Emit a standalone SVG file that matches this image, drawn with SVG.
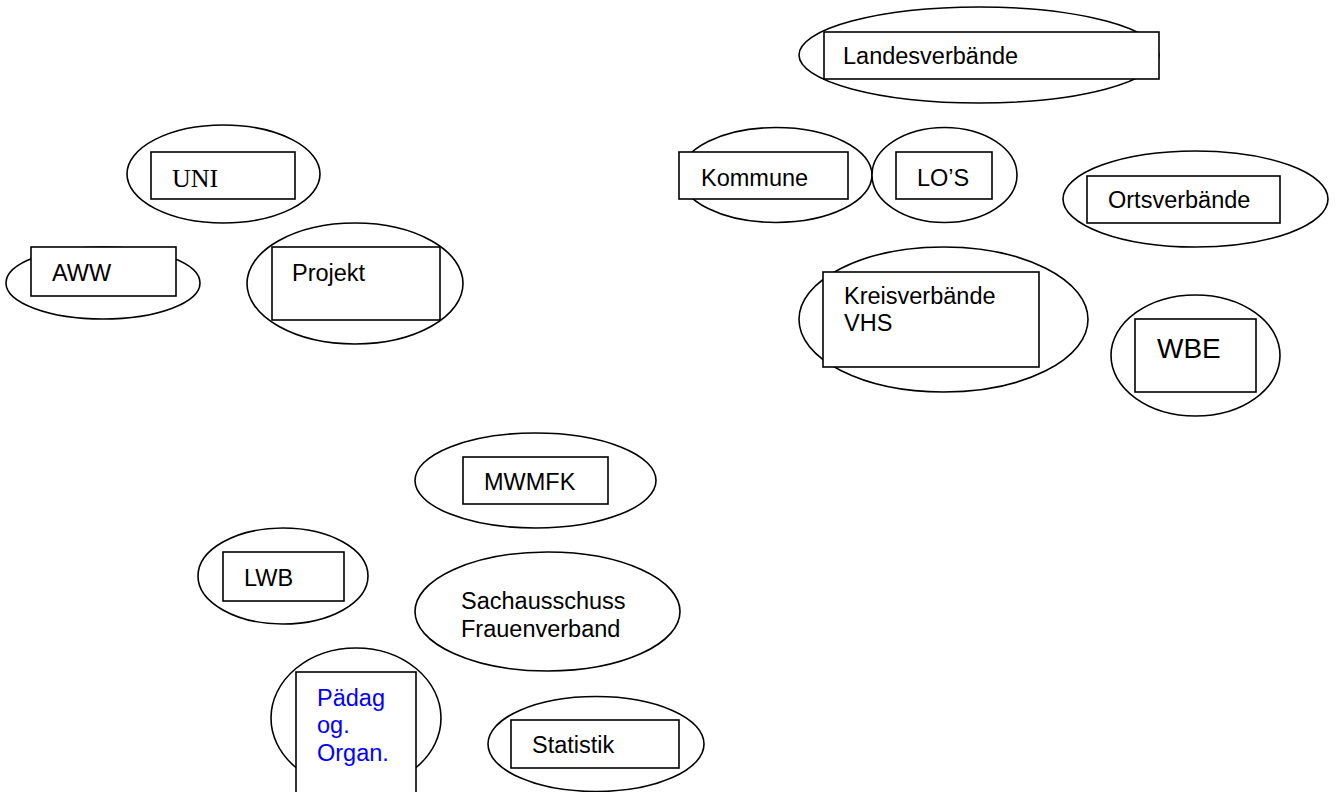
<svg xmlns="http://www.w3.org/2000/svg" width="1340" height="792" viewBox="0 0 1340 792">
<style>
.e{fill:#fff;stroke:#000;stroke-width:1.6}
.r{fill:#fff;stroke:#000;stroke-width:1.6}
.t{font-family:"Liberation Sans",Arial,sans-serif;font-size:23.5px;fill:#000}
.s{font-family:"Liberation Serif","Times New Roman",serif;font-size:26px;fill:#000}
.b{fill:#0000ff}
</style>
<rect width="1340" height="792" fill="#fff"/>
<g id="connectors"></g>
<g id="uni"><ellipse class="e" cx="223.5" cy="174" rx="96.5" ry="49"/><rect class="r" x="151" y="152" width="144" height="47"/><text class="s" x="172" y="187">UNI</text></g>
<g id="aww"><ellipse class="e" cx="103" cy="283" rx="97" ry="36"/><rect class="r" x="31" y="247" width="145" height="49"/><text class="t" x="52" y="281">AWW</text></g>
<g id="projekt"><ellipse class="e" cx="355" cy="283.5" rx="108" ry="60.5"/><rect class="r" x="272" y="247" width="168" height="73"/><text class="t" x="292" y="281">Projekt</text></g>
<g id="landesverbaende"><ellipse class="e" cx="979" cy="55" rx="180" ry="48"/><rect class="r" x="824" y="32" width="335" height="47"/><text class="t" x="843" y="64">Landesverbände</text></g>
<g id="kommune"><ellipse class="e" cx="776" cy="175" rx="96" ry="47.5"/><rect class="r" x="679" y="152" width="169" height="47"/><text class="t" x="701" y="186">Kommune</text></g>
<g id="los"><ellipse class="e" cx="944.5" cy="175" rx="72.5" ry="47.5"/><rect class="r" x="896" y="152" width="96" height="47"/><text class="t" x="917" y="186">LO’S</text></g>
<g id="ortsverbaende"><ellipse class="e" cx="1195.5" cy="199" rx="132.5" ry="48"/><rect class="r" x="1087" y="176" width="193" height="47"/><text class="t" x="1108" y="208">Ortsverbände</text></g>
<g id="kreisverbaende"><ellipse class="e" cx="943.5" cy="319.5" rx="144.5" ry="72.5"/><rect class="r" x="823" y="272" width="216" height="95"/><text class="t" x="844" y="304">Kreisverbände</text><text class="t" x="844" y="331">VHS</text></g>
<g id="wbe"><ellipse class="e" cx="1195.5" cy="355.5" rx="84.5" ry="60.5"/><rect class="r" x="1135" y="319" width="121" height="73"/><text class="t" x="1157" y="358" style="font-size:28px">WBE</text></g>
<g id="mwmfk"><ellipse class="e" cx="535.5" cy="480.5" rx="120.5" ry="47.5"/><rect class="r" x="463" y="457" width="145" height="47"/><text class="t" x="484" y="490">MWMFK</text></g>
<g id="lwb"><ellipse class="e" cx="283" cy="576" rx="85" ry="48"/><rect class="r" x="223" y="552" width="121" height="49"/><text class="t" x="244" y="586">LWB</text></g>
<g id="sachausschuss"><ellipse class="e" cx="547.5" cy="611.5" rx="132.5" ry="59.5"/><text class="t" x="461" y="609">Sachausschuss</text><text class="t" x="461" y="637">Frauenverband</text></g>
<g id="paedag"><ellipse class="e" cx="356" cy="718" rx="85" ry="70"/><rect class="r" x="296" y="672" width="120" height="130"/><text class="t b" x="317" y="706">Pädag</text><text class="t b" x="317" y="733">og.</text><text class="t b" x="317" y="761">Organ.</text></g>
<g id="statistik"><ellipse class="e" cx="596" cy="744" rx="108" ry="47.5"/><rect class="r" x="511" y="720" width="168" height="48"/><text class="t" x="532" y="753">Statistik</text></g>
</svg>
